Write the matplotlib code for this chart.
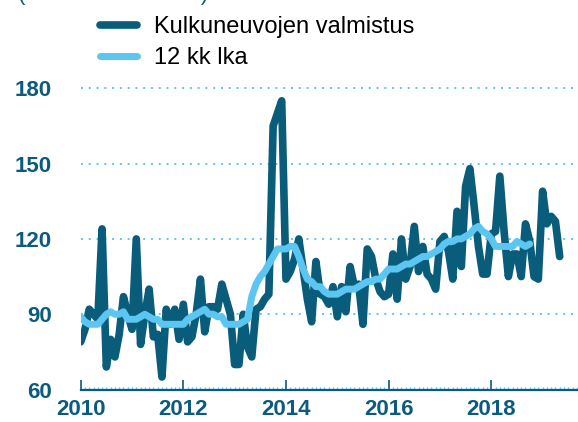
import numpy as np
import matplotlib
matplotlib.use("Agg")
import matplotlib.pyplot as plt
from matplotlib.ticker import MultipleLocator

plt.rcParams['font.family'] = ['Liberation Sans', 'DejaVu Sans']

# monthly index values from Jan 2010
START_YEAR = 2010
valmistus = [
    79, 84, 92, 90, 88, 124, 69, 80, 73, 82, 97, 90,        # 2010
    84, 120, 78, 90, 100, 81, 82, 65, 92, 86, 92, 80,       # 2011
    94, 79, 81, 90, 104, 83, 93, 93, 92, 102, 96, 90,       # 2012
    70, 70, 90, 77, 73, 92, 93, 96, 98, 165, 170, 175,      # 2013
    104, 107, 112, 120, 108, 96, 87, 111, 98, 97, 94, 101,  # 2014
    89, 101, 91, 109, 101, 102, 86, 116, 113, 104, 99, 97,  # 2015
    98, 114, 96, 120, 104, 109, 125, 107, 117, 106, 104, 100,  # 2016
    119, 121, 115, 104, 131, 109, 141, 148, 133, 117, 106, 106,  # 2017
    122, 123, 145, 123, 105, 114, 114, 105, 126, 119, 105, 104,  # 2018
    139, 126, 129, 127, 113,                                     # 2019
]
lka_12kk = [
    89, 87, 86, 86, 86, 88, 90, 91, 90, 90, 91, 88,
    88, 88, 89, 90, 89, 88, 88, 86, 86, 86, 86, 86,
    86, 88, 89, 90, 91, 92, 90, 90, 89, 89, 86, 86,
    86, 86, 87, 88, 97, 102, 105, 107, 110, 113, 116, 116,
    116, 117, 117, 113, 108, 104, 103, 101, 101, 99, 98, 98,
    98, 99, 100, 100, 100, 101, 102, 103, 103, 104, 104, 106,
    108, 108, 108, 109, 110, 110, 111, 112, 113, 113, 114, 115,
    116, 118, 119, 119, 120, 120, 121, 122, 124, 125, 123, 122,
    120, 117, 117, 117, 117, 117, 119, 118, 117, 118,
]
labels = ["Kulkuneuvojen valmistus", "12 kk lka"]
y_ticks = [60, 90, 120, 150, 180]
x_ticks = [2010, 2012, 2014, 2016, 2018]

DARK = "#0a5c7b"
LIGHT = "#5cc6f2"
TXT = "#0b5b7d"

t1 = START_YEAR + np.arange(len(valmistus)) / 12
t2 = START_YEAR + np.arange(len(lka_12kk)) / 12

fig = plt.figure(figsize=(5.78, 4.22), dpi=100)
ax = fig.add_axes([0.1396, 0.0768, 0.8604, 0.72])

l1, = ax.plot(t1, valmistus, color=DARK, lw=5.5, solid_joinstyle='round',
              solid_capstyle='round', zorder=3)
l2, = ax.plot(t2, lka_12kk, color=LIGHT, lw=5, solid_joinstyle='round',
              solid_capstyle='round', zorder=4)

ax.set_xlim(2010, 2019.69)
ax.set_ylim(60, 181)
ax.set_yticks(y_ticks)
ax.set_xticks(x_ticks)
ax.xaxis.set_minor_locator(MultipleLocator(1 / 12))

for s in ['top', 'right', 'left']:
    ax.spines[s].set_visible(False)
ax.spines['bottom'].set_color(TXT)
ax.spines['bottom'].set_linewidth(1.6)

ax.yaxis.grid(True, color=LIGHT, lw=1.4, linestyle=(0, (1, 3)))
ax.set_axisbelow(True)

ax.tick_params(axis='y', length=0, pad=21, labelsize=16, labelcolor=TXT)
ax.tick_params(axis='x', which='major', direction='in', length=7, width=1.2,
               color=TXT, pad=7, labelsize=16, labelcolor=TXT)
ax.tick_params(axis='x', which='minor', direction='in', length=2, width=1,
               color=LIGHT)
for lab in ax.get_xticklabels() + ax.get_yticklabels():
    lab.set_fontweight('bold')

# unit note, mostly above the visible area as in the source
fig.text(18 / 578, 1.0, "(indeksi 2015=100)", fontsize=16, color=TXT,
         va='baseline', ha='left')

leg = ax.legend([l1, l2], labels, loc='upper left',
                bbox_to_anchor=(100 / 578, 1 - 16 / 422),
                bbox_transform=fig.transFigure, frameon=False, fontsize=17,
                handlelength=1.55, handletextpad=0.72, labelspacing=0.38,
                borderpad=0, borderaxespad=0)

fig.savefig("out.png", dpi=100)
